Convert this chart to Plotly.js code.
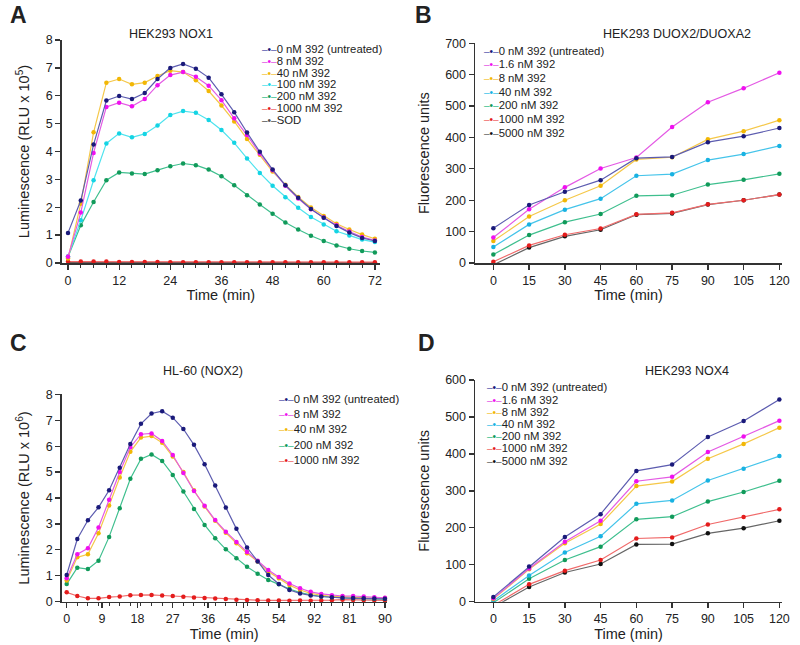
<!DOCTYPE html>
<html>
<head>
<meta charset="utf-8">
<script src="https://cdn.plot.ly/plotly-3.0.1.min.js"></script>
<style>
  body { margin: 0; background: #fff; }
  #chart { width: 800px; height: 645px; }
</style>
</head>
<body>
<div id="chart"></div>
<script>
// A - HEK293 NOX1, luminescence (RLU x 10^5)
var timeA = [0,3,6,9,12,15,18,21,24,27,30,33,36,39,42,45,48,51,54,57,60,63,66,69,72];
var nox1_0    = [1.08,2.24,4.25,5.83,5.99,5.88,6.1,6.6,7.0,7.14,6.97,6.65,6.05,5.41,4.68,3.99,3.35,2.79,2.34,1.94,1.62,1.33,1.09,0.9,0.79];
var nox1_8    = [0.22,1.81,3.95,5.6,5.75,5.62,5.88,6.38,6.74,6.85,6.68,6.36,5.84,5.19,4.59,3.93,3.33,2.77,2.31,1.93,1.63,1.35,1.13,0.93,0.81];
var nox1_40   = [0.16,2.13,4.69,6.47,6.6,6.41,6.47,6.71,6.9,6.85,6.56,6.17,5.65,5.08,4.45,3.88,3.28,2.81,2.37,1.99,1.69,1.41,1.2,1.02,0.87];
var nox1_100  = [0.22,1.53,2.97,4.29,4.65,4.51,4.63,4.93,5.31,5.45,5.39,5.13,4.77,4.31,3.75,3.23,2.77,2.36,1.98,1.65,1.38,1.14,0.99,0.84,0.75];
var nox1_200  = [0.22,1.35,2.19,2.97,3.25,3.21,3.19,3.33,3.47,3.57,3.51,3.35,3.11,2.79,2.43,2.1,1.77,1.45,1.2,0.98,0.79,0.63,0.51,0.43,0.38];
var nox1_1000 = [0.05,0.05,0.05,0.05,0.04,0.04,0.04,0.04,0.03,0.03,0.03,0.03,0.03,0.03,0.03,0.03,0.03,0.03,0.03,0.03,0.03,0.03,0.03,0.03,0.03];
var nox1_sod  = [0.01,0.01,0.01,0.01,0.01,0.01,0.01,0.01,0.01,0.01,0.01,0.01,0.01,0.01,0.01,0.01,0.01,0.01,0.01,0.01,0.01,0.01,0.01,0.01,0.01];
var namesA = ["0 nM 392 (untreated)", "8 nM 392", "40 nM 392", "100 nM 392", "200 nM 392", "1000 nM 392", "SOD"];

// B - HEK293 DUOX2/DUOXA2, fluorescence units
var timeB = [0,15,30,45,60,75,90,105,120];
var duox_0    = [111,185,227,264,334,338,385,404,430];
var duox_1_6  = [81,171,241,301,336,433,512,557,606];
var duox_8    = [70,148,200,246,330,337,394,420,455];
var duox_40   = [51,123,170,205,278,283,328,347,373];
var duox_200  = [27,89,130,156,214,216,250,265,284];
var duox_1000 = [4,56,90,110,155,160,187,200,218];
var duox_5000 = [-6,49,85,106,154,158,186,200,218];
var namesB = ["0 nM 392 (untreated)", "1.6 nM 392", "8 nM 392", "40 nM 392", "200 nM 392", "1000 nM 392", "5000 nM 392"];

// C - HL-60 (NOX2), luminescence (RLU x 10^6)
var timeC = [0,3,6,9,12,15,18,21,24,27,30,33,36,39,42,45,48,51,54,57,60,63,66,69,72,75,78,81,84,87,90];
var nox2_0    = [1.03,2.42,3.14,3.64,4.3,5.17,6.08,6.86,7.26,7.35,7.1,6.66,6.05,5.3,4.48,3.63,2.81,2.09,1.55,1.03,0.68,0.45,0.32,0.24,0.2,0.17,0.15,0.14,0.13,0.12,0.11];
var nox2_8    = [0.9,1.83,2.06,2.86,3.93,5.0,5.96,6.46,6.49,6.2,5.66,4.96,4.27,3.7,3.15,2.7,2.3,1.92,1.58,1.22,0.95,0.7,0.52,0.38,0.3,0.25,0.22,0.22,0.2,0.17,0.15];
var nox2_40   = [0.82,1.71,1.83,2.64,3.71,4.79,5.78,6.33,6.39,6.13,5.6,5.0,4.3,3.67,3.12,2.66,2.25,1.87,1.55,1.16,0.9,0.64,0.45,0.32,0.25,0.2,0.2,0.17,0.15,0.14,0.14];
var nox2_200  = [0.68,1.31,1.26,1.58,2.5,3.6,4.74,5.51,5.68,5.43,4.89,4.25,3.58,2.96,2.45,2.02,1.68,1.35,1.08,0.84,0.67,0.49,0.35,0.26,0.2,0.17,0.15,0.13,0.12,0.11,0.1];
var nox2_1000 = [0.36,0.22,0.13,0.13,0.18,0.2,0.25,0.26,0.26,0.24,0.22,0.19,0.16,0.14,0.12,0.1,0.08,0.07,0.06,0.05,0.05,0.04,0.05,0.04,0.05,0.06,0.08,0.07,0.06,0.05,0.05];
var namesC = ["0 nM 392 (untreated)", "8 nM 392", "40 nM 392", "200 nM 392", "1000 nM 392"];
var tickposC = [0,10,20,30,40,50,60,70,80,90];
var ticktextC = ["0","9","18","27","36","45","54","92","81","90"];   // labels as printed in the figure

// D - HEK293 NOX4, fluorescence units
var timeD = [0,15,30,45,60,75,90,105,120];
var nox4_0    = [13,95,175,237,354,371,446,489,547];
var nox4_1_6  = [9,90,162,219,326,338,405,447,490];
var nox4_8    = [7,88,158,210,313,325,387,427,471];
var nox4_40   = [2,71,133,177,265,274,328,360,394];
var nox4_200  = [-3,62,113,149,223,230,271,297,327];
var nox4_1000 = [-10,47,84,113,171,174,209,229,250];
var nox4_5000 = [-15,40,79,102,155,156,185,199,219];
var namesD = namesB;

var navy    = {line: "#5d5db0", dot: "#1a1a7a"};
var magenta = {line: "#e45ae4", dot: "#f010f0"};
var gold    = {line: "#f5c84a", dot: "#f2b705"};
var cyan    = {line: "#4fe3ee", dot: "#14d4e4"};
var sky     = {line: "#45c4ea", dot: "#18b2e2"};
var green   = {line: "#3fbf8e", dot: "#119a5a"};
var red     = {line: "#f06a6a", dot: "#e41c1c"};
var black   = {line: "#666666", dot: "#111111"};
var grey    = {line: "#555555", dot: "#555555"};

var FONT = "Liberation Sans, Arial, sans-serif";
var W = 800, H = 645;

function series(x, y, name, col, ax, clip) {
  return {
    x: x, y: y, name: name, type: "scatter", mode: "lines+markers",
    xaxis: "x" + ax, yaxis: "y" + ax, showlegend: false, cliponaxis: clip,
    line: {color: col.line, width: 1.2},
    marker: {color: col.dot, size: 4.5}
  };
}

var data = [];
var setA = [nox1_0, nox1_8, nox1_40, nox1_100, nox1_200, nox1_1000, nox1_sod];
var colA = [navy, magenta, gold, cyan, green, red, grey];
var setB = [duox_0, duox_1_6, duox_8, duox_40, duox_200, duox_1000, duox_5000];
var setC = [nox2_0, nox2_8, nox2_40, nox2_200, nox2_1000];
var colC = [navy, magenta, gold, green, red];
var setD = [nox4_0, nox4_1_6, nox4_8, nox4_40, nox4_200, nox4_1000, nox4_5000];
var colBD = [navy, magenta, gold, sky, green, red, black];

// draw back to front so the untreated curve sits on top
for (var i = setA.length - 1; i >= 0; i--) data.push(series(timeA, setA[i], namesA[i], colA[i], "", false));
for (var i = setB.length - 1; i >= 0; i--) data.push(series(timeB, setB[i], namesB[i], colBD[i], "2", true));
for (var i = setC.length - 1; i >= 0; i--) data.push(series(timeC, setC[i], namesC[i], colC[i], "3", false));
for (var i = setD.length - 1; i >= 0; i--) data.push(series(timeD, setD[i], namesD[i], colBD[i], "4", true));
data[0].marker.size = 2.5;   // SOD

// pixel helpers for the layout
function px(v) { return v / W; }
function py(v) { return 1 - v / H; }

var annotations = [];
function note(x, y, text, size, opts) {
  var a = {xref: "paper", yref: "paper", x: px(x), y: py(y), text: text, showarrow: false,
           xanchor: "center", yanchor: "middle", font: {family: FONT, size: size, color: "#222"}};
  for (var k in opts) a[k] = opts[k];
  annotations.push(a);
}
// legend rows built from the series names and colours
function legendRows(names, cols, x, y0, step) {
  for (var i = 0; i < names.length; i++) {
    note(x, y0 + i * step,
      '<span style="color:' + cols[i].line + ';font-size:10px">–</span>' +
      '<span style="color:' + cols[i].dot + ';font-size:10px">•</span>' +
      '<span style="color:' + cols[i].line + ';font-size:10px">–</span>' + names[i],
      11.3, {xanchor: "left"});
  }
}
legendRows(namesA, colA, 260, 49.3, 11.7);
legendRows(namesB, colBD, 482, 50.7, 13.7);
legendRows(namesC, colC, 277, 398.7, 15.3);
legendRows(namesD, colBD, 485, 387.3, 12.2);

note(171, 34, "HEK293 NOX1", 12.5);
note(677, 34, "HEK293 DUOX2/DUOXA2", 12.5);
note(203, 371, "HL-60 (NOX2)", 12.5);
note(687, 371, "HEK293 NOX4", 12.5);
note(18, 15, "<b>A</b>", 23);
note(423, 15, "<b>B</b>", 23);
note(18, 343, "<b>C</b>", 23);
note(427, 343, "<b>D</b>", 23);

function xax(dom, range, dtick, extra) {
  var a = {
    domain: [px(dom[0]), px(dom[1])], range: range, dtick: dtick, tick0: 0,
    showline: true, linecolor: "#333", linewidth: 1.5, ticks: "outside", ticklen: 5,
    tickwidth: 1.3, tickcolor: "#333", showgrid: false, zeroline: false,
    tickfont: {family: FONT, size: 12.5, color: "#222"},
    title: {text: "Time (min)", font: {family: FONT, size: 14.5, color: "#222"}, standoff: 3}
  };
  for (var k in extra) a[k] = extra[k];
  return a;
}
function yax(dom, range, dtick, title, anchor) {
  return {
    domain: [py(dom[1]), py(dom[0])], range: range, dtick: dtick, tick0: 0, anchor: anchor,
    showline: true, linecolor: "#333", linewidth: 1.5, ticks: "outside", ticklen: 5,
    tickwidth: 1.3, tickcolor: "#333", showgrid: false, zeroline: false,
    tickfont: {family: FONT, size: 12.5, color: "#222"},
    title: {text: title, font: {family: FONT, size: 14.5, color: "#222"}, standoff: 12}
  };
}

var layout = {
  width: W, height: H, margin: {l: 0, r: 0, t: 0, b: 0},
  paper_bgcolor: "#fff", plot_bgcolor: "#fff", showlegend: false,
  font: {family: FONT},
  xaxis:  xax([61.7, 380], [-1.48, 73.2], 12, {anchor: "y",
           minor: {dtick: 3, ticks: "outside", ticklen: 3, tickcolor: "#333", tickwidth: 1}}),
  yaxis:  yax([40, 263], [0, 8], 1, "Luminescence (RLU x 10<sup>5</sup>)", "x"),
  xaxis2: xax([475, 782], [-7.7, 121.1], 15, {anchor: "y2"}),
  yaxis2: yax([43.3, 263], [0, 700], 100, "Fluorescence units", "x2"),
  xaxis3: xax([61.7, 386.7], [-1.41, 90.5], null, {anchor: "y3", tickmode: "array",
           tickvals: tickposC, ticktext: ticktextC,
           minor: {tickvals: timeC, ticks: "outside", ticklen: 3, tickcolor: "#333", tickwidth: 1}}),
  yaxis3: yax([394.3, 601.7], [0, 8], 1, "Luminescence (RLU x 10<sup>6</sup>)", "x3"),
  xaxis4: xax([475, 782], [-7.7, 121.1], 15, {anchor: "y4"}),
  yaxis4: yax([380, 601.7], [0, 600], 100, "Fluorescence units", "x4"),
  annotations: annotations
};
delete layout.xaxis3.dtick;

Plotly.newPlot("chart", data, layout, {staticPlot: true});
</script>
</body>
</html>
